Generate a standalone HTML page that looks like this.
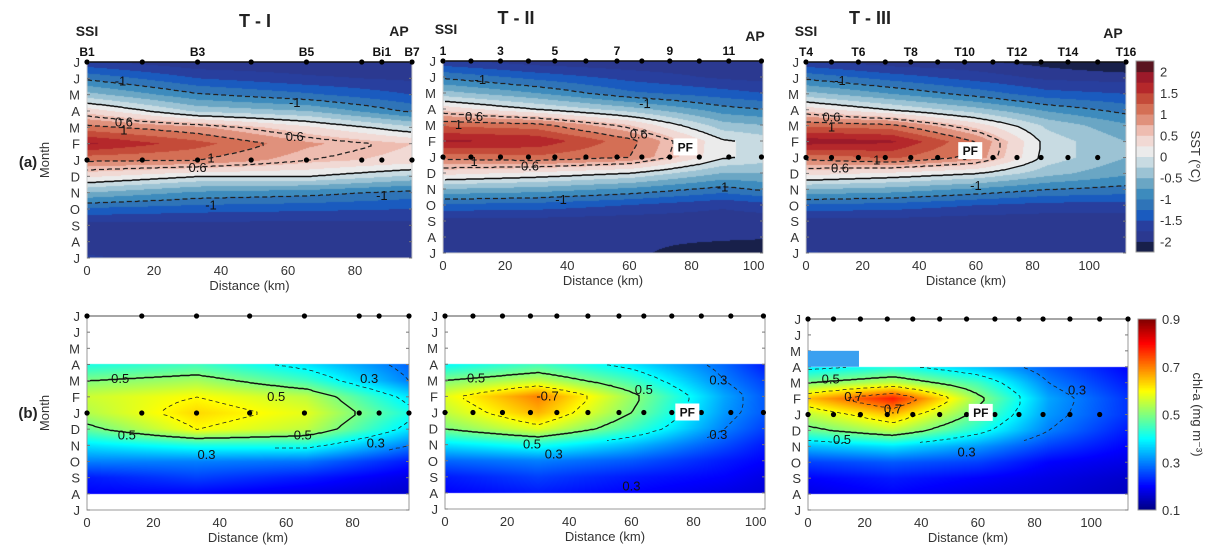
<!DOCTYPE html>
<html><head><meta charset="utf-8">
<style>
body{margin:0;background:#fff;}
#wrap{position:relative;width:1214px;height:559px;overflow:hidden;font-family:"Liberation Sans",sans-serif;}
canvas{position:absolute;}
svg{position:absolute;left:0;top:0;}
</style></head>
<body>
<div id="wrap">
<svg id="svg" width="1214" height="559"></svg>
</div>
<script>
// ---------- DATA ----------
const monthLabels = ["J","J","M","A","M","F","J","D","N","O","S","A","J"];
const sst1Dist = [0,33,66,97];
const sst1 = [
[-1.7,-1.95,-1.95,-1.95],[-1.05,-1.5,-1.7,-1.8],[-0.4,-0.95,-1.2,-1.5],[0.4,-0.3,-0.5,-1.05],
[1.1,0.8,0.3,-0.2],[1.8,1.35,0.8,0.5],[1.05,1.0,0.6,0.4],[0.3,0.0,0.0,-0.3],
[-0.5,-0.8,-0.9,-1.1],[-1.3,-1.4,-1.45,-1.5],[-1.85,-1.85,-1.85,-1.85],[-1.95,-1.95,-1.95,-1.95],[-1.7,-1.9,-1.95,-1.95]];
const sst2Dist = [0,30,60,90,103];
const sst2 = [
[-1.7,-1.9,-1.95,-1.95,-1.95],[-1.05,-1.35,-1.6,-1.8,-1.85],[-0.4,-0.75,-1.2,-1.4,-1.5],[0.4,0.0,-0.4,-0.9,-1.0],
[1.2,1.1,0.5,-0.4,-0.5],[1.8,1.7,1.1,0.05,-0.1],[1.1,1.2,1.0,0.05,-0.1],[0.35,0.2,0.0,-0.5,-0.5],
[-0.5,-0.6,-0.8,-1.1,-0.95],[-1.3,-1.35,-1.5,-1.7,-1.6],[-1.85,-1.85,-1.9,-1.9,-1.9],[-1.95,-1.95,-1.95,-1.95,-1.95],[-1.7,-1.9,-1.95,-2.15,-2.3]];
const sst3Dist = [0,30,60,85,113];
const sst3 = [
[-1.7,-1.9,-1.95,-2.1,-2.3],[-1.05,-1.35,-1.6,-1.8,-1.85],[-0.4,-0.75,-1.1,-1.4,-1.5],[0.4,0.0,-0.4,-0.8,-1.1],
[1.2,1.1,0.4,-0.3,-0.7],[1.9,1.8,1.0,-0.1,-0.5],[1.1,1.3,0.9,-0.1,-0.5],[0.35,0.2,0.0,-0.4,-0.7],
[-0.5,-0.6,-0.8,-1.0,-1.1],[-1.3,-1.35,-1.5,-1.6,-1.6],[-1.85,-1.85,-1.9,-1.9,-1.9],[-1.95,-1.95,-1.95,-1.95,-1.95],[-1.7,-1.9,-1.95,-1.95,-1.95]];
const chlRowStart = 3;
const chl1Dist = [0,33,66,97];
const chl1 = [
[0.42,0.45,0.38,0.28],[0.5,0.53,0.45,0.3],[0.56,0.6,0.55,0.38],[0.54,0.63,0.58,0.42],[0.48,0.6,0.55,0.38],
[0.38,0.42,0.42,0.3],[0.3,0.3,0.29,0.22],[0.22,0.25,0.22,0.18],[0.2,0.2,0.18,0.16]];
const chl2Dist = [0,30,60,90,103];
const chl2 = [
[0.4,0.45,0.38,0.28,0.22],[0.5,0.55,0.45,0.3,0.25],[0.58,0.7,0.52,0.33,0.27],[0.55,0.66,0.5,0.32,0.27],[0.5,0.58,0.45,0.3,0.25],
[0.38,0.42,0.35,0.26,0.22],[0.28,0.3,0.27,0.22,0.2],[0.22,0.25,0.22,0.2,0.18],[0.2,0.22,0.2,0.18,0.17]];
const chl3Dist = [0,30,60,85,113];
const chl3 = [
[0.38,0.42,0.35,0.27,0.2],[0.5,0.55,0.45,0.3,0.22],[0.65,0.78,0.52,0.33,0.24],[0.55,0.65,0.48,0.32,0.24],[0.48,0.55,0.42,0.3,0.22],
[0.35,0.38,0.32,0.25,0.2],[0.25,0.27,0.25,0.2,0.18],[0.2,0.22,0.2,0.18,0.16],[0.18,0.2,0.18,0.17,0.15]];
const st1Top = [0,16.5,33,49,65.5,82,88,97];
const st1Mid = [0,16.5,33,49,65.5,82,88,97];
const st2Top = [0,9,18.5,27.5,36,46,56,64,73,82.5,92,102.5];
const st2Mid = [0,9,18.5,27.5,36,46,56,64,73,82.5,92,102.5];
const st3Top = [0,9,18.5,28,37,46.5,56,66,74.5,83,92.5,103,113];
const st3Mid = [0,9,18.5,28,37,46.5,56,66,74.5,83,92.5,103];
const st1Names = [["B1",0],["B3",33],["B5",65.5],["Bi1",88],["B7",97]];
const st2Names = [["1",0],["3",18.5],["5",36],["7",56],["9",73],["11",92]];
const st3Names = [["T4",0],["T6",18.5],["T8",37],["T10",56],["T12",74.5],["T14",92.5],["T16",113]];
const sstTicks = [-2,-1.5,-1,-0.5,0,0.5,1,1.5,2];
const chlTicks = [0.1,0.3,0.5,0.7,0.9];
const xTicks1 = [0,20,40,60,80];
const xTicks23 = [0,20,40,60,80,100];

// ---------- helpers ----------
const svg = document.getElementById('svg');
const NS = "http://www.w3.org/2000/svg";
function mk(tag, attrs, parent){const e=document.createElementNS(NS,tag);for(const k in attrs)e.setAttribute(k,attrs[k]);(parent||svg).appendChild(e);return e;}
function txt(s,x,y,o,parent){const e=mk('text',Object.assign({x:x,y:y,'font-size':12,fill:'#333','text-anchor':'middle'},o||{}),parent);e.textContent=s;return e;}

const sstColors=["#18204a","#2b3990","#283f9e","#1a5bbf","#2f74b8","#3d8bbd","#6aa6c4","#9cc3d4","#c8dbe2","#ebebeb","#f1d9d4","#eebcb0","#e0917c","#d46f55","#c44b39","#b5282b","#9c1a2a","#5a1520"];
function sstColor(v){let i=Math.floor((v+2.25)/0.25);i=Math.max(0,Math.min(17,i));return sstColors[i];}
function jet(t){t=Math.max(0,Math.min(1,t));
  const r=Math.max(0,Math.min(1,1.5-Math.abs(4*t-3)));
  const g=Math.max(0,Math.min(1,1.5-Math.abs(4*t-2)));
  const b=Math.max(0,Math.min(1,1.5-Math.abs(4*t-1)));
  return `rgb(${Math.round(r*255)},${Math.round(g*255)},${Math.round(b*255)})`;}
function chlColor(v){return jet((v-0.1)/0.8);}

function sample(grid,dists,rowOff,d,r){
  const rr=r-rowOff; const nR=grid.length;
  if(rr<0||rr>nR-1) return null;
  let j=0; while(j<dists.length-2 && d>dists[j+1]) j++;
  let fx=(d-dists[j])/(dists[j+1]-dists[j]); fx=Math.max(0,Math.min(1,fx));
  let i=Math.min(nR-2,Math.floor(rr)); const fy=rr-i;
  const a=grid[i][j]*(1-fx)+grid[i][j+1]*fx;
  const b=grid[i+1][j]*(1-fx)+grid[i+1][j+1]*fx;
  return a*(1-fy)+b*fy;
}
function toPath(pts){
  let d='',prev=null;
  pts.forEach(p=>{
    if(prev===null||Math.abs(p[1]-prev[1])>12||Math.abs(p[0]-prev[0])>6) d+=' M'+p[0]+','+p[1];
    else d+=' L'+p[0]+','+p[1];
    prev=p;
  });
  return d;
}

function panel(P){
  const {x0,x1,y0,y1,dmax,grid,dists,rowOff,kind,name}=P;
  const W=x1-x0,H=y1-y0;
  const xS=d=>x0+d/dmax*W, yS=r=>y0+r/12*H;
  const inv=px=>(px-x0)/W*dmax, invR=py=>(py-y0)/H*12;
  const cv=document.createElement('canvas');
  cv.width=W;cv.height=H;cv.style.left=x0+'px';cv.style.top=y0+'px';
  
  
  document.getElementById('wrap').insertBefore(cv,svg);
  const ctx=cv.getContext('2d');
  for(let px=0;px<W;px++){for(let py=0;py<H;py++){
    const v=sample(grid,dists,rowOff,inv(x0+px+0.5),invR(y0+py+0.5));
    if(v===null) continue;
    ctx.fillStyle= kind==='sst'?sstColor(v):chlColor(v);
    ctx.fillRect(px,py,1,1);
  }}
  const g=mk('g',{});
  
  
  P.levels.forEach(Lo=>{
    const L=Lo.v;
    const up=[],lo=[];
    for(let px=x0;px<=x1;px+=2){
      const d=inv(px); let prev=null,first=null,last=null;
      for(let py=y0;py<=y1;py+=0.5){
        const v=sample(grid,dists,rowOff,d,invR(py));
        if(v!==null&&prev!==null&&((prev-L)*(v-L)<0)){ if(first===null)first=py; last=py; }
        prev=v;
      }
      if(first!==null&&last-first>2){up.push([px,first]);lo.push([px,last]);}
    }
    if(up.length<2) return;
    const closed = lo.length>1 && lo[lo.length-1][0]<x1-3;
    let dstr;
    if(closed) dstr=toPath(up.concat(lo.slice().reverse()));
    else dstr=toPath(up)+toPath(lo);
    const pth=mk('path',{d:dstr,fill:'none',stroke: Lo.solid?'#111':'#222','stroke-width':Lo.solid?1.4:(kind==='sst'?1.3:0.8),'stroke-dasharray':Lo.solid?'none':(kind==='sst'?'5,3':'4,3')},g);
    
    
  });
  const box=mk('rect',{x:x0,y:y0,width:W,height:H,fill:'none',stroke:kind==='sst'?'#ccc':'#999','stroke-width':1},g);
  
  
  mk('line',{x1:x0,y1:y0,x2:x1,y2:y0,stroke:kind==='sst'?'#111':'#888','stroke-width':1.5},g);
  monthLabels.forEach((m,i)=>{
    const t=txt(m,x0-7,yS(i)+5,{'font-size':13,'text-anchor':'end',fill:'#333'},g);
    
    
    mk('line',{x1:x0,y1:yS(i),x2:x0+3,y2:yS(i),stroke:'#777'},g);
    mk('line',{x1:x1,y1:yS(i),x2:x1-3,y2:yS(i),stroke:'#777'},g);
  });
  P.xt.forEach(v=>{
    const t=txt(String(v),xS(v),y1+17,{'font-size':13},g);
    
    
  });
  const xt=txt('Distance (km)',(x0+x1)/2,y1+32,{'font-size':13},g);
  
  
  (P.labels||[]).forEach(([s,d,r])=>{
    const t=txt(s,xS(d),yS(r)+4,{'font-size':13,fill:'#111'},g);
    
    
  });
  P.stTop.forEach(d=>{const c=mk('circle',{cx:xS(d),cy:y0,r:2.6,fill:'#000'},g);
    
    });
  P.stMid.forEach(d=>{const c=mk('circle',{cx:xS(d),cy:yS(6),r:2.6,fill:'#000'},g);
    
    });
  if(P.names){P.names.forEach(([n,d])=>{const t=txt(n,xS(d),y0-6,{'font-size':12,'font-weight':'bold',fill:'#111'},g);
    
    });}
  if(P.pf){const [d,r]=P.pf;
    const bx=mk('rect',{x:xS(d)-12,y:yS(r)-9,width:24,height:17,fill:'#fff'},g);
    
    
    const t=txt('PF',xS(d),yS(r)+4,{'font-size':12,'font-weight':'bold',fill:'#111'},g);
    
    }
  return {xS,yS};
}
const sstLevels=[{v:-1},{v:0,solid:true},{v:0.6},{v:1}];
const chlLevels=[{v:0.2},{v:0.3},{v:0.4},{v:0.5,solid:true},{v:0.6},{v:0.7}];

panel({name:'sst-t1',x0:87,x1:412,y0:62,y1:258,dmax:97,grid:sst1,dists:sst1Dist,rowOff:0,kind:'sst',levels:sstLevels,xt:xTicks1,stTop:st1Top,stMid:st1Mid,names:st1Names,
  labels:[["-1",10,1.2],["-1",62,2.5],["0.6",11,3.7],["1",11,4.2],["0.6",62,4.6],["1",37,5.9],["0.6",33,6.5],["-1",37,8.8],["-1",88,8.2]]});
panel({name:'sst-t2',x0:443,x1:763,y0:61,y1:253,dmax:103,grid:sst2,dists:sst2Dist,rowOff:0,kind:'sst',levels:sstLevels,xt:xTicks23,stTop:st2Top,stMid:st2Mid,names:st2Names,pf:[78,5.4],
  labels:[["-1",12,1.2],["-1",65,2.7],["0.6",10,3.5],["1",5,4.0],["0.6",63,4.6],["1",10,6.3],["0.6",28,6.6],["-1",38,8.7],["-1",90,7.9]]});
panel({name:'sst-t3',x0:806,x1:1126,y0:62,y1:253,dmax:113,grid:sst3,dists:sst3Dist,rowOff:0,kind:'sst',levels:sstLevels,xt:xTicks23,stTop:st3Top,stMid:st3Mid,names:st3Names,pf:[58,5.6],
  labels:[["-1",12,1.2],["0.6",9,3.5],["1",9,4.1],["1",25,6.2],["0.6",12,6.7],["-1",60,7.8]]});
panel({name:'chl-t1',x0:87,x1:409,y0:316,y1:510,dmax:97,grid:chl1,dists:chl1Dist,rowOff:chlRowStart,kind:'chl',levels:chlLevels,xt:xTicks1,stTop:st1Top,stMid:st1Mid,
  labels:[["0.5",10,3.9],["0.5",57,5.0],["0.5",12,7.4],["0.5",65,7.4],["0.3",36,8.6],["0.3",87,7.9],["0.3",85,3.9]]});
panel({name:'chl-t2',x0:445,x1:765,y0:316,y1:509,dmax:103,grid:chl2,dists:chl2Dist,rowOff:chlRowStart,kind:'chl',levels:chlLevels,xt:xTicks23,stTop:st2Top,stMid:st2Mid,pf:[78,6],
  labels:[["0.5",10,3.9],["0.5",64,4.6],["-0.7",33,5.0],["0.5",28,8.0],["0.3",35,8.6],["0.3",88,7.4],["0.3",88,4.0],["0.3",60,10.6]]});
panel({name:'chl-t3',x0:808,x1:1128,y0:319,y1:510,dmax:113,grid:chl3,dists:chl3Dist,rowOff:chlRowStart,kind:'chl',levels:chlLevels,xt:xTicks23,stTop:st3Top,stMid:st3Mid,pf:[61,5.9],
  labels:[["0.5",8,3.8],["0.7",16,4.9],["0.7",30,5.7],["0.5",12,7.6],["0.3",56,8.4],["0.3",95,4.5]]});
(function(){const r=mk('rect',{x:808,y:319+2*191/12,width:18/113*320,height:191/12,fill:'#3aa0f0'});

})();

function colorbar(name,x,y0,y1,vmin,vmax,ticks,fn,title,steps){
  const g=mk('g',{});
  
  
  const H=y1-y0;
  for(let i=0;i<steps;i++){
    const v=vmin+(i+0.5)/steps*(vmax-vmin);
    mk('rect',{x:x,y:y1-(i+1)/steps*H,width:18,height:H/steps+0.5,fill:fn(v)},g);
  }
  mk('rect',{x:x,y:y0,width:18,height:H,fill:'none',stroke:'#999'},g);
  ticks.forEach(v=>{const yy=y1-(v-vmin)/(vmax-vmin)*H;
    const t=txt(String(v),x+24,yy+5,{'font-size':13,'text-anchor':'start'},g);
    
    });
  const t=txt(title,0,0,{'font-size':13,transform:`translate(${x+55},${(y0+y1)/2}) rotate(90)`},g);
  
  
}
colorbar('sst-colorbar',1136,61,252,-2.25,2.25,sstTicks,sstColor,'SST (°C)',18);
colorbar('chl-colorbar',1138,319,510,0.1,0.9,chlTicks,chlColor,'chl-a (mg m⁻³)',120);

[["T - I",255,27],["T - II",516,24],["T - III",870,24]].forEach(([s,x,y])=>{const t=txt(s,x,y,{'font-size':18,'font-weight':'bold',fill:'#222'});

});
[["SSI",87,36],["AP",399,36],["SSI",446,34],["AP",755,41],["SSI",806,36],["AP",1113,38]].forEach(([s,x,y])=>{const t=txt(s,x,y,{'font-size':14,'font-weight':'bold',fill:'#222'});

});
[["(a)",28,167],["(b)",28,418]].forEach(([s,x,y])=>{const t=txt(s,x,y,{'font-size':15,'font-weight':'bold',fill:'#222'});

});
[[160],[413]].forEach(([y])=>{const t=txt('Month',0,0,{'font-size':13,transform:`translate(49,${y}) rotate(-90)`});

});
</script>
</body></html>
